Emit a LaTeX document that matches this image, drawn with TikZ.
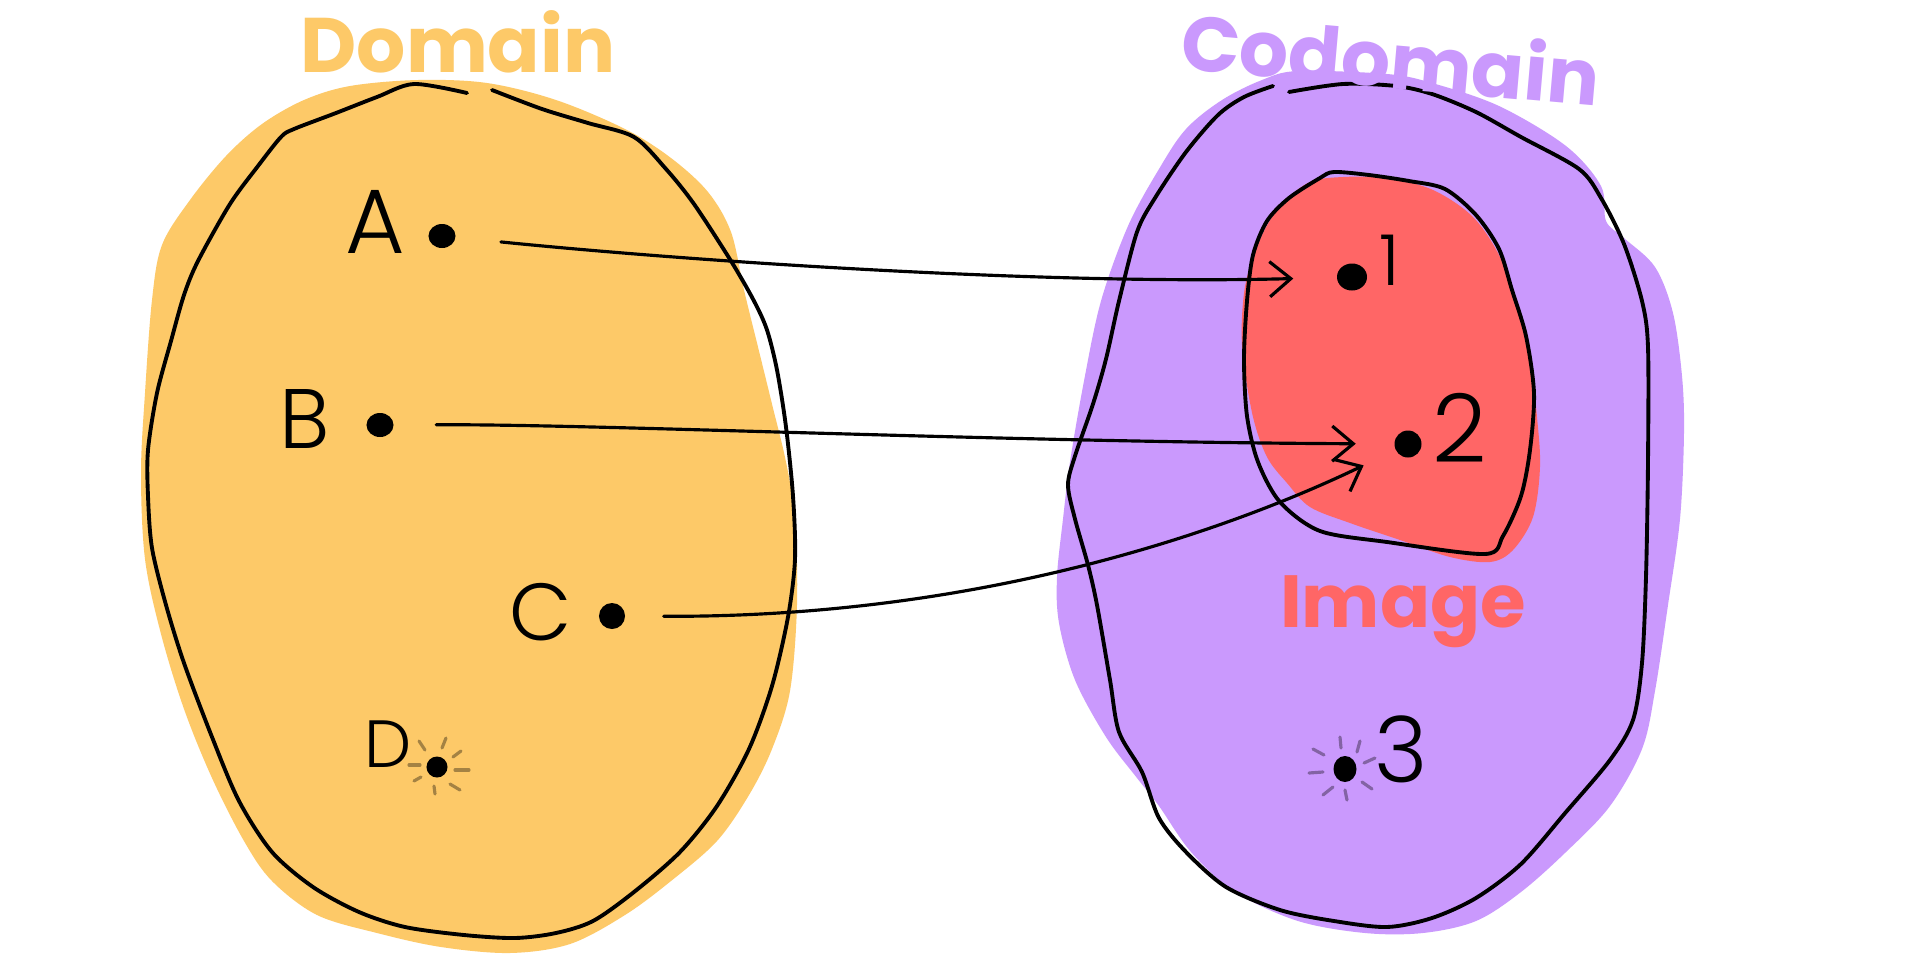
\documentclass[tikz,border=0pt]{standalone}
\usepackage{fontspec}
\usetikzlibrary{arrows.meta,shapes.geometric}
\newfontfamily\titlefont{Poppins}
\newfontfamily\labfont{Poppins Light}
\definecolor{dyel}{HTML}{FDC968}
\definecolor{cpur}{HTML}{CA99FD}
\definecolor{ired}{HTML}{FF6666}
\tikzset{
  blobline/.style={black, line width=1.1pt, line cap=round, line join=round},
  dotnode/.style={ellipse, fill=black, inner sep=0pt, minimum width=0.27cm, minimum height=0.24cm},
  lab/.style={font=\labfont\fontsize{24}{28}\selectfont, anchor=base, inner sep=0pt},
  conn/.style={black, line width=0.9pt, line cap=round, -{Straight Barb[length=6pt,width=10pt,line width=0.9pt]}},
  ray/.style={black, opacity=0.35, line width=0.9pt, line cap=round},
  settitle/.style={font=\titlefont\bfseries\fontsize{22}{26}\selectfont, anchor=base, inner sep=0pt}
}
\begin{document}
\begin{tikzpicture}[x=0.01cm,y=-0.01cm]
\fill[white] (0,0) rectangle (1920,960);
\useasboundingbox (0,0) rectangle (1920,960);

% fills
\fill[dyel] plot[smooth cycle, tension=0.55] coordinates {(350,86) (418,80) (487,83) (556,100) (625,129) (671,158) (708,192) (731,232) (744,290) (758,347) (772,404) (786,462) (795,519) (797,605) (790,691) (772,749) (749,795) (717,841) (671,881) (625,915) (570,944) (510,953) (441,947) (377,933) (317,915) (272,881) (244,841) (212,778) (184,709) (161,634) (145,559) (141,473) (145,393) (152,300) (162,245) (190,200) (226,156) (262,124) (304,100)};
\fill[cpur] plot[smooth cycle, tension=0.55] coordinates {(1298,71) (1387,74) (1432,83) (1499,106) (1566,146) (1601,186) (1606,221) (1624,238) (1655,267) (1673,313) (1682,376) (1684,433) (1680,519) (1668,605) (1655,691) (1642,749) (1610,806) (1566,852) (1521,892) (1476,921) (1423,933) (1365,933) (1298,921) (1235,892) (1191,852) (1159,806) (1137,778) (1106,737) (1075,680) (1059,623) (1057,577) (1063,519) (1070,462) (1084,381) (1101,301) (1128,226) (1159,169) (1186,129) (1222,100) (1262,80)};
\fill[ired] plot[smooth cycle, tension=0.55] coordinates {(1343,177) (1310,182) (1283,203) (1263,233) (1247,277) (1242,317) (1243,357) (1253,417) (1267,457) (1287,483) (1310,507) (1350,523) (1400,540) (1450,557) (1490,562) (1513,550) (1533,517) (1540,467) (1537,417) (1530,357) (1520,310) (1500,257) (1473,217) (1433,190) (1387,178)};

% outlines
\draw[blobline] plot[smooth, tension=0.5] coordinates {(492,90) (542,109) (588,123) (634,137) (666,169) (694,204) (731,261) (754,301) (767,330) (777,370) (786,427) (793,496) (795,559) (788,617) (772,686) (749,749) (717,806) (680,852) (634,892) (593,921) (556,933) (515,938) (464,935) (405,927) (359,912) (313,887) (272,852) (239,801) (212,737) (184,663) (166,605) (152,548) (148,496) (148,450) (157,393) (171,341) (184,295) (198,261) (230,204) (258,166) (281,137) (294,129) (336,113) (377,97) (414,84) (467,93)};
\draw[blobline] plot[smooth, tension=0.5] coordinates {(1289,92) (1343,84) (1396,86) (1432,94) (1476,112) (1521,137) (1579,169) (1601,198) (1624,244) (1642,301) (1648,347) (1648,462) (1646,577) (1642,663) (1633,720) (1610,760) (1566,812) (1521,864) (1476,898) (1432,918) (1387,927) (1334,921) (1280,910) (1226,887) (1186,852) (1159,818) (1142,772) (1119,732) (1110,680) (1097,605) (1088,565) (1075,519) (1068,485) (1075,456) (1093,404) (1106,359) (1119,301) (1137,232) (1155,198) (1186,152) (1218,115) (1244,97) (1273,86)};
\draw[blobline] plot[smooth cycle, tension=0.5] coordinates {(1334,172) (1369,175) (1409,181) (1445,189) (1476,215) (1499,249) (1512,290) (1526,336) (1534,393) (1530,450) (1521,496) (1503,536) (1485,554) (1387,542) (1320,531) (1280,502) (1258,462) (1247,416) (1244,359) (1247,301) (1253,255) (1267,221) (1289,198) (1320,178)};

% titles
\node[settitle, text=dyel] (tdom) at (458,72) {Domain};
\node[settitle, text=cpur, rotate=-5] (tcod) at (1388,88) {Codomain};
\node[settitle, text=ired, font=\titlefont\bfseries\fontsize{21}{25}\selectfont] (timg) at (1403,627) {Image};

% dots
\node[dotnode] (a) at (442,236) {};
\node[dotnode] (b) at (380,425) {};
\node[dotnode, minimum width=0.26cm, minimum height=0.26cm] (c) at (612,616) {};
\node[dotnode, minimum width=0.21cm, minimum height=0.21cm] (d) at (437,767) {};
\node[dotnode, minimum width=0.3cm, minimum height=0.27cm] (n1) at (1352,277) {};
\node[dotnode, minimum width=0.27cm, minimum height=0.27cm] (n2) at (1408,444) {};
\node[dotnode, minimum width=0.23cm, minimum height=0.26cm] (n3) at (1345,769) {};

% labels
\node[lab, font=\labfont\fontsize{26}{30}\selectfont] (la) at (375,253) {A};
\node[lab] (lb) at (305,448) {B};
\node[lab, font=\labfont\fontsize{23}{28}\selectfont] (lc) at (541,640) {C};
\node[lab, font=\labfont\fontsize{19}{23}\selectfont] (ld) at (388,767) {D};
\node[lab, font=\labfont\fontsize{20}{24}\selectfont] (l1) at (1390,285) {1};
\node[lab, font=\labfont\fontsize{27}{31}\selectfont] (l2) at (1460,462) {2};
\node[lab, font=\labfont\fontsize{26}{30}\selectfont] (l3) at (1401,782) {3};

% rays around D
\draw[ray] (409,765) -- (420,765);
\draw[ray] (419,741) -- (425,750);
\draw[ray] (446,738) -- (442,748);
\draw[ray] (453,757) -- (461,751);
\draw[ray] (455,770) -- (469,770);
\draw[ray] (450,784) -- (460,790);
\draw[ray] (434,786) -- (435,794);
\draw[ray] (414,781) -- (421,777);
% rays around 3
\draw[ray] (1340,737) -- (1341,748);
\draw[ray] (1360,741) -- (1357,752);
\draw[ray] (1364,763) -- (1375,758);
\draw[ray] (1362,782) -- (1372,789);
\draw[ray] (1345,790) -- (1347,800);
\draw[ray] (1323,795) -- (1333,787);
\draw[ray] (1309,773) -- (1323,772);
\draw[ray] (1313,749) -- (1324,755);

% connectors
\draw[conn, shorten <=0.45cm, shorten >=0.43cm] (a) .. controls (700,262) and (1050,285) .. (n1);
\draw[conn, shorten <=0.42cm, shorten >=0.38cm] (b) .. controls (600,424) and (1000,442) .. (n2);
\draw[conn, shorten <=0.38cm, shorten >=0.35cm] (c) .. controls (1000,618) and (1250,520) .. (n2);
\end{tikzpicture}
\end{document}
